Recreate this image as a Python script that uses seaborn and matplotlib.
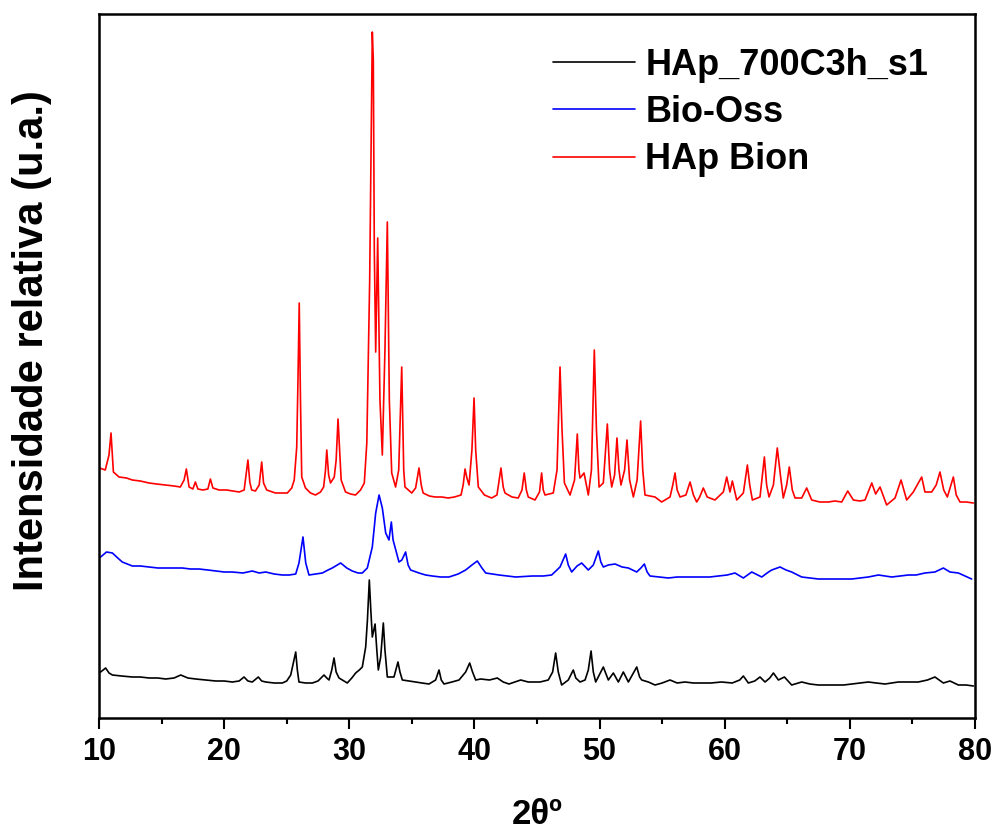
import matplotlib
matplotlib.use("Agg")
import matplotlib.pyplot as plt
from matplotlib.ticker import MultipleLocator
import numpy as np
import pandas as pd
import seaborn as sns

# ---- XRD patterns (2θ in degrees, relative intensity in a.u., stacked) ----
series_names = ["HAp_700C3h_s1", "Bio-Oss", "HAp Bion"]
series_colors = ["#000000", "#0000FF", "#FF0000"]

hap700_2theta = [10.13, 10.53, 10.8, 11.07, 11.8, 12.66, 13.3, 14.0, 14.7, 15.33, 16.0, 16.53, 17.1, 17.73,
                 18.5, 19.32, 20.0, 20.65, 21.2, 21.59, 21.9, 22.25, 22.73, 23.0, 23.32, 24.0, 24.65, 25.0,
                 25.32, 25.55, 25.72, 25.85, 25.98, 26.5, 27.05, 27.5, 27.98, 28.2, 28.38, 28.6, 28.78, 28.95,
                 29.18, 29.84, 30.2, 30.51, 30.8, 31.04, 31.31, 31.45, 31.6, 31.72, 31.84, 32.06, 32.2, 32.32,
                 32.51, 32.72, 32.85, 33.04, 33.57, 33.89, 34.05, 34.24, 34.8, 35.3, 35.8, 36.37, 36.9, 37.17,
                 37.35, 37.57, 38.2, 38.77, 39.3, 39.62, 39.85, 40.1, 40.5, 41.2, 41.83, 42.3, 42.76, 43.7,
                 44.3, 44.9, 45.24, 45.9, 46.25, 46.49, 46.7, 46.97, 47.5, 47.9, 48.1, 48.44, 48.84, 49.1,
                 49.32, 49.5, 49.69, 50.3, 50.7, 51.1, 51.5, 51.9, 52.3, 52.97, 53.2, 53.37, 53.9, 54.43,
                 55.0, 55.63, 56.2, 56.83, 57.5, 58.16, 58.9, 59.75, 60.6, 61.2, 61.49, 61.89, 62.4, 62.82,
                 63.22, 63.6, 63.89, 64.29, 64.77, 65.35, 66.15, 66.8, 67.48, 68.2, 68.81, 69.5, 70.15, 70.8,
                 71.48, 72.1, 72.81, 73.87, 74.6, 75.47, 76.2, 76.8, 77.47, 78.0, 78.67, 79.3, 79.87]
hap700_int = [46, 50, 45, 43, 42, 41, 41, 40, 40, 39, 40, 43, 40, 39,
              38, 37, 37, 36, 37, 41, 37, 36, 41, 37, 36, 35, 35, 37,
              43, 56, 66, 48, 36, 35, 35, 37, 43, 40, 38, 48, 60, 46,
              40, 35, 40, 45, 48, 51, 71, 98, 138, 108, 81, 94, 68, 48,
              61, 95, 68, 41, 41, 56, 46, 38, 37, 36, 35, 34, 38, 48,
              38, 34, 36, 38, 46, 55, 46, 38, 39, 38, 40, 36, 34, 38,
              36, 36, 36, 38, 46, 65, 46, 33, 38, 48, 40, 36, 38, 48,
              67, 46, 36, 51, 38, 45, 36, 46, 36, 51, 41, 38, 36, 33,
              35, 38, 35, 36, 35, 35, 35, 36, 35, 38, 42, 35, 37, 41,
              36, 40, 45, 38, 41, 33, 36, 34, 33, 33, 33, 33, 34, 35,
              36, 35, 34, 36, 36, 36, 38, 41, 35, 37, 33, 33, 32]

biooss_2theta = [10.13, 10.6, 11.07, 11.5, 11.86, 12.66, 13.3, 14.0, 14.7, 15.33, 16.0, 16.66, 17.3, 17.99,
                 18.7, 19.32, 20.0, 20.65, 21.5, 22.25, 22.8, 23.32, 24.0, 24.65, 25.2, 25.72, 25.98, 26.3,
                 26.52, 26.78, 27.3, 27.85, 28.3, 28.64, 29.31, 29.8, 30.24, 30.7, 31.04, 31.44, 31.84, 32.11,
                 32.38, 32.64, 32.91, 33.17, 33.36, 33.5, 33.65, 33.97, 34.2, 34.5, 34.7, 34.9, 35.57, 36.1,
                 36.63, 37.3, 37.97, 38.7, 39.3, 39.8, 40.23, 40.6, 40.9, 41.96, 43.3, 44.63, 45.5, 46.17,
                 46.84, 47.29, 47.5, 47.77, 48.2, 48.57, 49.1, 49.5, 49.9, 50.1, 50.3, 50.7, 51.24, 51.8,
                 52.3, 52.97, 53.3, 53.58, 53.8, 54.03, 54.8, 55.5, 56.2, 56.83, 57.5, 58.16, 58.8, 59.49,
                 60.2, 60.82, 61.49, 62.16, 62.96, 63.5, 63.76, 64.42, 64.9, 65.35, 66.15, 66.8, 67.48, 68.2,
                 68.81, 69.5, 70.15, 70.8, 71.48, 72.28, 72.8, 73.35, 74.0, 74.68, 75.3, 76.0, 76.8, 77.47,
                 78.0, 78.67, 79.2, 79.73]
biooss_int = [161, 166, 165, 160, 156, 152, 152, 151, 150, 150, 150, 150, 149, 149,
              148, 147, 146, 146, 145, 147, 145, 146, 144, 143, 143, 144, 155, 181,
              155, 143, 144, 145, 148, 150, 155, 150, 147, 145, 145, 150, 171, 205,
              223, 210, 185, 178, 196, 178, 171, 156, 158, 166, 153, 148, 145, 143,
              142, 141, 141, 144, 148, 153, 157, 150, 145, 143, 141, 142, 142, 143,
              151, 164, 153, 146, 152, 155, 148, 153, 167, 156, 151, 153, 154, 151,
              150, 146, 150, 154, 146, 142, 141, 140, 141, 141, 141, 141, 141, 142,
              143, 145, 140, 146, 141, 146, 148, 151, 148, 146, 141, 140, 139, 139,
              139, 139, 139, 140, 141, 143, 142, 141, 142, 143, 143, 145, 146, 150,
              146, 145, 142, 139]

bion_2theta = [10.05, 10.5, 10.8, 10.96, 11.15, 11.6, 12.2, 12.66, 13.3, 14.0, 14.6, 15.3, 16.0, 16.5,
               16.8, 16.98, 17.2, 17.5, 17.7, 17.9, 18.3, 18.7, 18.9, 19.1, 19.6, 20.2, 20.7, 21.2,
               21.6, 21.8, 21.9, 22.05, 22.2, 22.5, 22.8, 23.0, 23.15, 23.4, 24.1, 24.6, 25.05, 25.4,
               25.6, 25.8, 25.9, 26.0, 26.1, 26.2, 26.5, 26.9, 27.3, 27.7, 27.95, 28.1, 28.2, 28.35,
               28.5, 28.8, 28.95, 29.1, 29.25, 29.35, 29.7, 30.1, 30.5, 30.9, 31.2, 31.4, 31.63, 31.84,
               31.92, 32.0, 32.11, 32.27, 32.45, 32.64, 32.85, 33.04, 33.2, 33.39, 33.7, 33.95, 34.19, 34.35,
               34.45, 34.99, 35.3, 35.57, 35.75, 35.9, 36.4, 36.85, 37.4, 37.9, 38.4, 38.93, 39.1, 39.25,
               39.4, 39.57, 39.8, 39.97, 40.1, 40.31, 40.8, 41.37, 41.8, 42.12, 42.3, 42.44, 43.0, 43.5,
               43.8, 43.98, 44.15, 44.3, 44.84, 45.2, 45.37, 45.5, 45.64, 46.3, 46.6, 46.84, 47.0, 47.19,
               47.64, 48.0, 48.22, 48.35, 48.44, 48.76, 49.1, 49.35, 49.58, 49.75, 49.96, 50.3, 50.62, 50.8,
               50.97, 51.2, 51.39, 51.55, 51.71, 52.0, 52.19, 52.4, 52.7, 53.0, 53.28, 53.45, 53.63, 54.43,
               54.96, 55.63, 55.85, 56.03, 56.2, 56.43, 56.9, 57.23, 57.5, 57.76, 58.0, 58.29, 58.6, 59.22,
               59.89, 60.16, 60.42, 60.61, 60.96, 61.49, 61.81, 62.0, 62.21, 62.82, 63.17, 63.35, 63.54, 63.89,
               64.2, 64.45, 64.68, 64.95, 65.16, 65.4, 65.62, 66.15, 66.55, 66.95, 67.6, 68.28, 68.8, 69.35,
               69.83, 70.28, 70.8, 71.21, 71.75, 72.06, 72.41, 72.94, 73.61, 74.09, 74.54, 75.07, 75.74, 76.0,
               76.54, 76.9, 77.2, 77.5, 77.79, 78.27, 78.5, 78.8, 79.3, 79.87]
bion_int = [250, 248, 263, 285, 246, 241, 240, 238, 237, 235, 234, 233, 232, 231,
            238, 249, 231, 229, 236, 229, 228, 229, 239, 230, 228, 228, 227, 226,
            228, 248, 258, 236, 228, 227, 233, 256, 235, 228, 225, 225, 225, 230,
            238, 271, 338, 415, 318, 241, 230, 225, 223, 226, 231, 248, 268, 243,
            235, 241, 258, 299, 263, 238, 226, 224, 223, 228, 235, 275, 438, 686,
            658, 468, 366, 480, 318, 263, 368, 496, 318, 245, 231, 248, 351, 248,
            231, 225, 230, 250, 233, 225, 222, 221, 221, 220, 221, 223, 233, 249,
            240, 233, 268, 320, 268, 231, 223, 220, 223, 250, 231, 225, 221, 220,
            228, 245, 228, 221, 218, 226, 245, 228, 223, 225, 248, 351, 288, 235,
            223, 238, 284, 248, 240, 245, 223, 248, 368, 288, 231, 235, 294, 248,
            231, 243, 280, 248, 233, 248, 278, 238, 221, 238, 297, 248, 223, 221,
            216, 221, 233, 245, 228, 221, 223, 236, 223, 216, 221, 230, 221, 218,
            226, 241, 226, 237, 218, 225, 253, 233, 218, 221, 261, 233, 221, 233,
            270, 243, 220, 233, 251, 228, 220, 220, 230, 218, 216, 216, 217, 216,
            227, 218, 217, 218, 235, 224, 231, 213, 220, 238, 218, 226, 241, 226,
            226, 233, 246, 228, 221, 241, 223, 216, 216, 215]

x_ticks = [10, 20, 30, 40, 50, 60, 70, 80]

frames = []
for name, tt, inten in zip(series_names,
                           [hap700_2theta, biooss_2theta, bion_2theta],
                           [hap700_int, biooss_int, bion_int]):
    frames.append(pd.DataFrame({"2theta": tt, "intensity": inten, "sample": name}))
df = pd.concat(frames, ignore_index=True)

sns.set_style("ticks")
plt.rcParams["font.family"] = ["Liberation Sans", "DejaVu Sans"]
plt.rcParams["font.weight"] = "bold"
plt.rcParams["text.color"] = "black"
plt.rcParams["axes.labelcolor"] = "black"
plt.rcParams["xtick.color"] = "black"
plt.rcParams["ytick.color"] = "black"

fig = plt.figure(figsize=(9.95, 8.35), dpi=100)
ax = fig.add_axes([99 / 995, 117 / 835, 876 / 995, 704 / 835])

sns.lineplot(data=df, x="2theta", y="intensity", hue="sample", hue_order=series_names,
             palette=dict(zip(series_names, series_colors)), sort=False, estimator=None,
             linewidth=1.2, ax=ax)

ax.set_xlim(10, 80)
ax.set_ylim(0, 704)
ax.set_xticks(x_ticks)
ax.set_xticklabels([str(t) for t in x_ticks])
ax.xaxis.set_minor_locator(MultipleLocator(5))
ax.set_yticks([])

for side in ["left", "right", "top", "bottom"]:
    ax.spines[side].set_visible(True)
    ax.spines[side].set_linewidth(1.8)
    ax.spines[side].set_color("black")

ax.tick_params(axis="x", which="major", direction="out", length=8, width=1.5,
               pad=6, labelsize=22, colors="black")
ax.tick_params(axis="x", which="minor", direction="out", length=4.5, width=1.5, colors="black")
for lbl in ax.get_xticklabels():
    lbl.set_fontweight("bold")

ax.set_xlabel("2θº", fontsize=25, fontweight="bold", labelpad=22, color="black")
ax.set_ylabel("Intensidade relativa (u.a.)", fontsize=30, fontweight="bold", color="black")
ax.yaxis.set_label_coords(-0.054, 0.5355)

leg = ax.legend(loc="upper left", bbox_to_anchor=(0.518, 0.952), frameon=False,
                fontsize=26, handlelength=2.28, handletextpad=0.28, labelspacing=0.34,
                borderpad=0, borderaxespad=0)
for t in leg.get_texts():
    t.set_fontweight("bold")
    t.set_color("black")
for h in leg.get_lines():
    h.set_linewidth(1.2)

fig.savefig("out.png", dpi=100)
